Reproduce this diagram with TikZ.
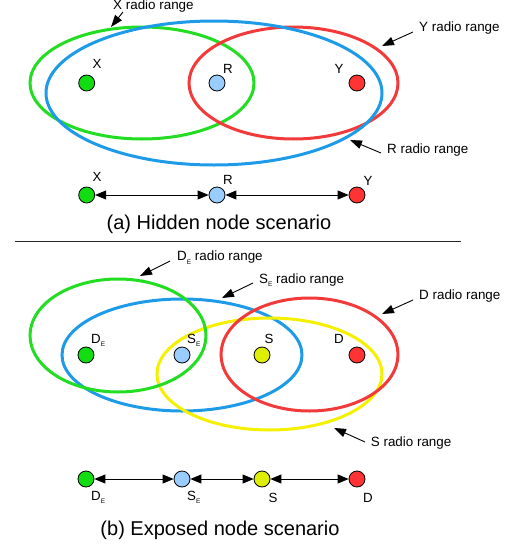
\documentclass[tikz,border=0pt]{standalone}
\usepackage{fontspec}
\setmainfont{Liberation Sans}
\usetikzlibrary{arrows.meta}
\definecolor{cgreen}{HTML}{22DD22}
\definecolor{cblue}{HTML}{1E9BE8}
\definecolor{cred}{HTML}{F23A3A}
\definecolor{cyellow}{HTML}{F5F000}
\definecolor{fgreen}{HTML}{11DD11}
\definecolor{fblue}{HTML}{99CCFF}
\definecolor{fyellow}{HTML}{DDEE00}
\definecolor{fred}{HTML}{FF3333}
\newcommand{\sub}[1]{{\fontsize{6.5}{7}\selectfont\raisebox{-3.5pt}{#1}}}
\tikzset{
  rng/.style={line width=3pt},
  dot/.style={circle,draw=black,line width=0.8pt,minimum size=16pt,inner sep=0pt},
  lbl/.style={font=\fontsize{13.3}{14}\selectfont,inner sep=0pt,anchor=base},
  rlbl/.style={font=\fontsize{13.4}{14}\selectfont,inner sep=0pt,anchor=base west},
  captxt/.style={font=\fontsize{20}{22}\selectfont,inner sep=0pt,anchor=base},
  ptr/.style={line width=0.9pt,-{Triangle[length=12pt,width=8.5pt]}},
  biarrow/.style={line width=0.9pt,{Triangle[length=11pt,width=9pt]}-{Triangle[length=11pt,width=9pt]}},
}
\begin{document}
\begin{tikzpicture}[x=1pt,y=-1pt]
\useasboundingbox (0,0) rectangle (511,544);
% ---------- (a) ----------
\draw[rng,cgreen] (142,83) ellipse [x radius=112pt,y radius=56pt];
\draw[rng,cred] (293.5,83) ellipse [x radius=104.5pt,y radius=56pt];
\draw[rng,cblue] (214,93) ellipse [x radius=168pt,y radius=72pt];
\node[dot,fill=fgreen] (X) at (86.7,83) {};
\node[dot,fill=fblue] (R) at (217,83) {};
\node[dot,fill=fred] (Y) at (357,83) {};
\node[lbl] (Xl) at (97,68) {X};
\node[lbl] (Rl) at (228,73) {R};
\node[lbl] (Yl) at (339,73) {Y};
\node[rlbl] (xr) at (113,9.5) {X radio range};
\node[rlbl] (yr) at (419,31) {Y radio range};
\node[rlbl] (rr) at (387,153) {R radio range};
\coordinate (xs) at (123,12); \coordinate (xt) at (111,27);
\coordinate (ys) at (413,32); \coordinate (yt) at (382,46);
\coordinate (rs) at (381,153); \coordinate (rt) at (350,140);
\draw[ptr] (xs) -- (xt);
\draw[ptr] (ys) -- (yt);
\draw[ptr] (rs) -- (rt);
\node[dot,fill=fgreen] (X2) at (86.7,195) {};
\node[dot,fill=fblue] (R2) at (217,195) {};
\node[dot,fill=fred] (Y2) at (357,195) {};
\node[lbl] (X2l) at (97,181.5) {X};
\node[lbl] (R2l) at (228,184) {R};
\node[lbl] (Y2l) at (368,185) {Y};
\draw[biarrow] (X2) -- (R2);
\draw[biarrow] (R2) -- (Y2);
\node[captxt] (capa) at (219,229) {(a) Hidden node scenario};
% separator
\coordinate (sl) at (15,241); \coordinate (sr) at (461,241);
\draw[line width=0.9pt,black!85] (sl) -- (sr);
% ---------- (b) ----------
\draw[rng,cblue] (182,355) ellipse [x radius=120pt,y radius=56pt];
\draw[rng,cyellow] (269.5,374) ellipse [x radius=112.5pt,y radius=56pt];
\draw[rng,cred] (309.5,354.5) ellipse [x radius=88.5pt,y radius=56.5pt];
\draw[rng,cgreen] (118,335.5) ellipse [x radius=88pt,y radius=56.5pt];
\node[dot,fill=fgreen] (DE) at (86,355) {};
\node[dot,fill=fblue] (SE) at (182,355) {};
\node[dot,fill=fyellow] (S) at (262,355) {};
\node[dot,fill=fred] (D) at (357,355) {};
\node[lbl,anchor=base west] (DEl) at (91,343.3) {D\sub{E}};
\node[lbl,anchor=base west] (SEl) at (187,343.3) {S\sub{E}};
\node[lbl] (Sl) at (269,343.3) {S};
\node[lbl] (Dl) at (339,343.3) {D};
\node[rlbl] (der) at (177,260.7) {D\sub{E} radio range};
\node[rlbl] (ser) at (259,283.3) {S\sub{E} radio range};
\node[rlbl] (dr) at (419,299) {D radio range};
\node[rlbl] (sr2) at (370.7,446.7) {S radio range};
\coordinate (des) at (170,261); \coordinate (det) at (140,276);
\coordinate (ses) at (253,283); \coordinate (set) at (222,298);
\coordinate (ds) at (413,300); \coordinate (dt) at (382,314);
\coordinate (ss) at (365,442); \coordinate (st) at (334,428);
\draw[ptr] (des) -- (det);
\draw[ptr] (ses) -- (set);
\draw[ptr] (ds) -- (dt);
\draw[ptr] (ss) -- (st);
\node[dot,fill=fgreen] (DE2) at (86,479) {};
\node[dot,fill=fblue] (SE2) at (182,479) {};
\node[dot,fill=fyellow] (S2) at (262,479) {};
\node[dot,fill=fred] (D2) at (357,479) {};
\draw[biarrow] (DE2) -- (SE2);
\draw[biarrow] (SE2) -- (S2);
\draw[biarrow] (S2) -- (D2);
\node[lbl,anchor=base west] (DE2l) at (91,500) {D\sub{E}};
\node[lbl,anchor=base west] (SE2l) at (187,500) {S\sub{E}};
\node[lbl] (S2l) at (273,502) {S};
\node[lbl] (D2l) at (368,502) {D};
\node[captxt] (capb) at (220,535) {(b) Exposed node scenario};
\end{tikzpicture}
\end{document}
